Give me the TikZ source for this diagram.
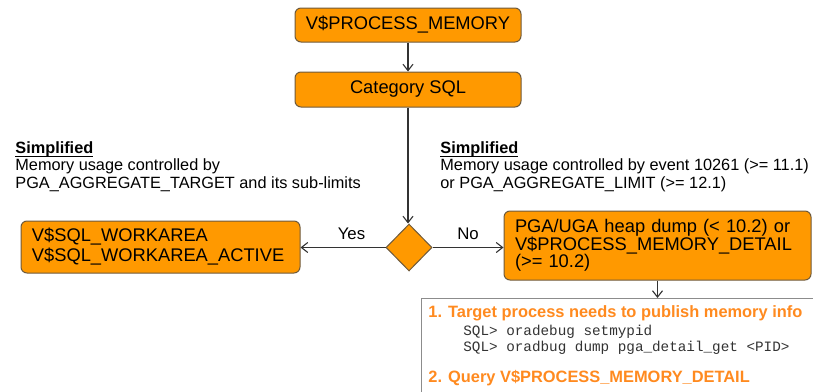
\documentclass[tikz,border=0pt]{standalone}
\usepackage{fontspec}
\setmainfont{Liberation Sans}
\setmonofont{Liberation Mono}
\usetikzlibrary{arrows.meta,shapes.geometric,positioning}
\definecolor{boxorange}{HTML}{FF9900}
\definecolor{boxline}{HTML}{6E5A3C}
\definecolor{noteorange}{HTML}{FF8A1F}
\definecolor{notegray}{HTML}{8C8C8C}
\definecolor{wire}{HTML}{333333}

\begin{document}
\begin{tikzpicture}[
  x=0.5pt, y=-0.5pt,
  every node/.style={inner sep=0pt},
  view/.style={draw=boxline,fill=boxorange,rounded corners=3pt,line width=0.5pt,
    font=\fontsize{9.15}{8.75}\selectfont},
  decision/.style={draw=boxline,fill=boxorange,diamond,line width=0.5pt,
    minimum width=23pt,minimum height=23.5pt},
  detail/.style={draw=notegray,fill=white,line width=0.6pt,anchor=north west},
  note/.style={font=\fontsize{8.15}{8.8}\selectfont,align=left,anchor=base west},
  step title/.style={font=\fontsize{8.2}{9}\selectfont\bfseries,text=noteorange,anchor=base west},
  code/.style={font=\fontsize{7.15}{8}\ttfamily,text=wire,anchor=base west},
  to/.style={-{Straight Barb[length=3.2pt,width=5pt]},draw=wire,line width=0.55pt,
    font=\fontsize{8.4}{9}\selectfont}]

  \path[use as bounding box,clip] (0,0) rectangle (813,391);

  % Boxes
  \node[view,minimum width=113pt,minimum height=17pt] (procmem) at (408,25) {V\$PROCESS\_MEMORY};
  \node[view,minimum width=113pt,minimum height=17.5pt] (category) at (408,89.5) {Category SQL};
  \node[decision] (choice) at (409,247.5) {};
  \node[view,text width=128.5pt,inner xsep=5.5pt,minimum height=26pt,align=left,
    font=\fontsize{9.15}{10}\selectfont] (workarea) at (160.5,247)
    {V\$SQL\_WORKAREA\\V\$SQL\_WORKAREA\_ACTIVE};
  \node[view,text width=142.5pt,inner xsep=5.5pt,minimum height=34.5pt,align=left] (heapdump)
    at (657.5,245.5) {PGA/UGA heap dump (< 10.2) or\\V\$PROCESS\_MEMORY\_DETAIL\\(>= 10.2)};
  \node[detail,minimum width=210pt,minimum height=60pt] (publish) at (421,298) {};

  % Notes (anchored on the last line)
  \node[note] (leftnote) at (15,188.3)
    {\underline{\smash{\textbf{Simplified}}}\\Memory usage controlled by\\PGA\_AGGREGATE\_TARGET and its sub-limits};
  \node[note] (rightnote) at (440,188.3)
    {\underline{\smash{\textbf{Simplified}}}\\Memory usage controlled by event 10261 (>= 11.1)\\or PGA\_AGGREGATE\_LIMIT (>= 12.1)};

  % Steps
  \node[step title] (stepone) at (428,317) {1. Target process needs to publish memory info};
  \node[code] (setpid) at (463,335) {SQL> oradebug setmypid};
  \node[code] (dumpget) at (463,351.6) {SQL> oradbug dump pga\_detail\_get <PID>};
  \node[step title] (steptwo) at (428,382) {2. Query V\$PROCESS\_MEMORY\_DETAIL};

  % Connectors
  \draw[to] (procmem) -- (category);
  \draw[to] (category) -- (category |- choice.north);
  \draw[to] (choice.west) -- node[pos=0.4,above=3.75pt] {Yes} (workarea.east |- choice.west);
  \draw[to] (choice.east) -- node[midway,above=3.75pt] {No} (heapdump.west |- choice.east);
  \draw[to] (heapdump.south) -- (heapdump.south |- publish.north);

\end{tikzpicture}
\end{document}
